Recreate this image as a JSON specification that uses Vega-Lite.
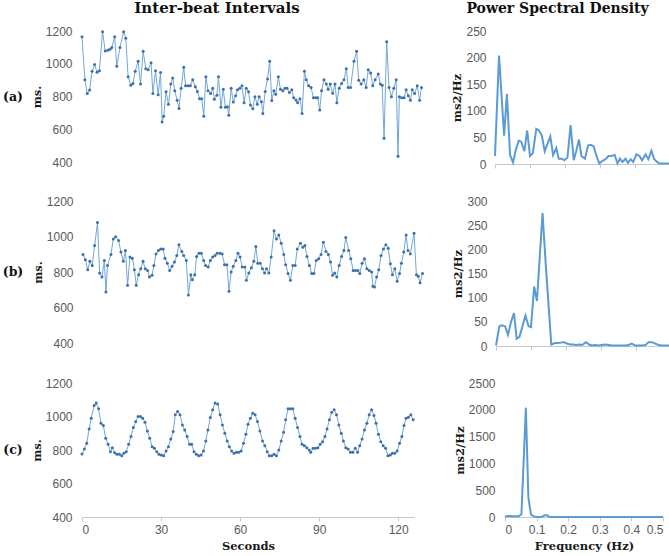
{
"$schema": "https://vega.github.io/schema/vega-lite/v6.json",
"padding": {"left": 2, "top": 1, "right": 0, "bottom": 0},
"background": "white",
"config": {
 "view": {"stroke": null},
 "axis": {"grid": false, "labelFont": "Liberation Sans", "labelFontSize": 12, "labelColor": "#595959", "titleFont": "DejaVu Serif", "titleFontWeight": "bold", "titleFontSize": 11.5, "titleColor": "#1a1a1a", "domainColor": "#c8c8c8", "tickColor": "#c8c8c8", "format": "d"},
 "axisY": {"domain": false, "ticks": false, "labelPadding": 10, "titlePadding": 3},
 "title": {"font": "DejaVu Serif", "fontWeight": "bold", "fontSize": 14, "color": "#111"},
 "text": {"font": "DejaVu Serif", "fontWeight": "bold", "fontSize": 12.5, "color": "#111"}
},
"datasets": {
 "ibi_a": [{"t":0.0,"v":1165},{"t":1.1,"v":902},{"t":2.0,"v":818},{"t":2.9,"v":839},{"t":3.8,"v":954},{"t":4.8,"v":995},{"t":5.7,"v":948},{"t":6.6,"v":958},{"t":7.8,"v":1196},{"t":8.8,"v":1078},{"t":9.8,"v":1082},{"t":10.6,"v":1088},{"t":11.3,"v":1099},{"t":12.4,"v":1165},{"t":13.2,"v":985},{"t":14.4,"v":1099},{"t":15.8,"v":1196},{"t":16.6,"v":1155},{"t":17.5,"v":921},{"t":18.5,"v":869},{"t":19.3,"v":880},{"t":20.2,"v":954},{"t":21.3,"v":1016},{"t":22.2,"v":876},{"t":23.2,"v":1076},{"t":24.2,"v":969},{"t":25.1,"v":963},{"t":26.2,"v":1006},{"t":26.9,"v":818},{"t":27.9,"v":958},{"t":28.9,"v":810},{"t":29.8,"v":946},{"t":30.4,"v":644},{"t":31.0,"v":680},{"t":31.9,"v":829},{"t":32.8,"v":752},{"t":33.7,"v":876},{"t":34.4,"v":913},{"t":35.2,"v":835},{"t":36.1,"v":777},{"t":36.8,"v":727},{"t":37.6,"v":851},{"t":38.6,"v":979},{"t":39.3,"v":865},{"t":40.2,"v":865},{"t":41.1,"v":865},{"t":42.0,"v":902},{"t":43.0,"v":859},{"t":43.8,"v":830},{"t":44.6,"v":787},{"t":45.4,"v":787},{"t":46.2,"v":680},{"t":47.0,"v":921},{"t":47.8,"v":835},{"t":48.8,"v":818},{"t":49.6,"v":851},{"t":50.2,"v":783},{"t":51.2,"v":808},{"t":51.8,"v":921},{"t":52.7,"v":735},{"t":53.6,"v":845},{"t":54.4,"v":735},{"t":55.2,"v":737},{"t":55.7,"v":686},{"t":56.6,"v":851},{"t":57.4,"v":766},{"t":58.3,"v":804},{"t":59.0,"v":841},{"t":59.9,"v":851},{"t":60.7,"v":865},{"t":61.5,"v":762},{"t":62.3,"v":851},{"t":63.2,"v":829},{"t":63.9,"v":748},{"t":64.8,"v":725},{"t":65.6,"v":799},{"t":66.5,"v":752},{"t":67.2,"v":799},{"t":68.1,"v":768},{"t":68.6,"v":696},{"t":69.5,"v":830},{"t":70.4,"v":907},{"t":71.2,"v":1016},{"t":72.0,"v":775},{"t":72.8,"v":835},{"t":73.5,"v":814},{"t":74.5,"v":921},{"t":75.3,"v":845},{"t":76.2,"v":835},{"t":77.0,"v":851},{"t":77.8,"v":851},{"t":78.7,"v":824},{"t":79.6,"v":841},{"t":80.3,"v":793},{"t":81.2,"v":779},{"t":81.8,"v":762},{"t":82.7,"v":787},{"t":83.5,"v":696},{"t":84.4,"v":954},{"t":85.1,"v":902},{"t":86.0,"v":865},{"t":86.9,"v":855},{"t":87.8,"v":793},{"t":88.7,"v":793},{"t":89.4,"v":793},{"t":90.2,"v":717},{"t":90.9,"v":835},{"t":91.8,"v":902},{"t":92.7,"v":876},{"t":93.4,"v":845},{"t":94.2,"v":876},{"t":95.1,"v":820},{"t":96.0,"v":876},{"t":96.7,"v":762},{"t":97.6,"v":851},{"t":98.5,"v":880},{"t":99.4,"v":902},{"t":100.3,"v":969},{"t":101.0,"v":855},{"t":101.9,"v":855},{"t":103.2,"v":1016},{"t":104.2,"v":1076},{"t":105.0,"v":900},{"t":105.9,"v":876},{"t":106.9,"v":902},{"t":107.8,"v":855},{"t":108.6,"v":963},{"t":109.5,"v":944},{"t":110.3,"v":865},{"t":111.2,"v":902},{"t":112.4,"v":938},{"t":113.2,"v":876},{"t":113.9,"v":869},{"t":114.6,"v":545},{"t":115.6,"v":1134},{"t":116.5,"v":855},{"t":117.4,"v":799},{"t":118.3,"v":851},{"t":119.2,"v":902},{"t":119.9,"v":435},{"t":120.4,"v":799},{"t":121.3,"v":793},{"t":122.2,"v":793},{"t":123.0,"v":841},{"t":123.8,"v":804},{"t":124.6,"v":777},{"t":125.3,"v":841},{"t":126.2,"v":818},{"t":127.2,"v":865},{"t":128.1,"v":777},{"t":128.8,"v":855}],
 "ibi_b": [{"t":0.0,"v":899},{"t":0.9,"v":869},{"t":1.8,"v":813},{"t":2.6,"v":860},{"t":3.5,"v":837},{"t":4.4,"v":949},{"t":5.5,"v":1079},{"t":6.3,"v":794},{"t":7.2,"v":772},{"t":8.1,"v":865},{"t":8.7,"v":688},{"t":9.3,"v":837},{"t":10.6,"v":899},{"t":11.5,"v":986},{"t":12.4,"v":999},{"t":13.5,"v":977},{"t":14.4,"v":912},{"t":15.3,"v":860},{"t":16.1,"v":921},{"t":16.9,"v":726},{"t":17.8,"v":884},{"t":18.7,"v":878},{"t":19.5,"v":813},{"t":20.2,"v":726},{"t":21.1,"v":785},{"t":21.9,"v":819},{"t":22.8,"v":860},{"t":23.6,"v":819},{"t":24.5,"v":809},{"t":25.2,"v":772},{"t":26.2,"v":781},{"t":26.9,"v":837},{"t":27.7,"v":902},{"t":28.6,"v":921},{"t":29.5,"v":930},{"t":30.4,"v":930},{"t":31.1,"v":878},{"t":32.0,"v":850},{"t":32.9,"v":809},{"t":33.8,"v":832},{"t":34.7,"v":856},{"t":35.6,"v":893},{"t":36.4,"v":953},{"t":37.5,"v":915},{"t":38.2,"v":893},{"t":39.2,"v":865},{"t":40.0,"v":670},{"t":40.9,"v":785},{"t":41.5,"v":757},{"t":42.4,"v":785},{"t":43.1,"v":887},{"t":44.0,"v":906},{"t":44.9,"v":906},{"t":45.8,"v":865},{"t":46.5,"v":837},{"t":47.5,"v":828},{"t":48.3,"v":865},{"t":49.2,"v":884},{"t":50.1,"v":893},{"t":50.9,"v":906},{"t":52.0,"v":906},{"t":52.8,"v":902},{"t":53.7,"v":841},{"t":54.6,"v":841},{"t":55.4,"v":692},{"t":56.2,"v":800},{"t":57.0,"v":832},{"t":58.0,"v":865},{"t":58.8,"v":906},{"t":59.6,"v":884},{"t":60.4,"v":828},{"t":61.4,"v":828},{"t":62.0,"v":753},{"t":62.9,"v":794},{"t":63.9,"v":824},{"t":64.8,"v":860},{"t":65.6,"v":943},{"t":66.3,"v":850},{"t":67.2,"v":850},{"t":68.1,"v":819},{"t":68.9,"v":794},{"t":69.6,"v":819},{"t":70.5,"v":794},{"t":71.4,"v":884},{"t":72.5,"v":1033},{"t":73.4,"v":986},{"t":74.3,"v":1008},{"t":75.2,"v":962},{"t":76.2,"v":899},{"t":76.9,"v":841},{"t":77.8,"v":791},{"t":78.7,"v":753},{"t":79.6,"v":837},{"t":80.5,"v":837},{"t":81.3,"v":930},{"t":82.5,"v":962},{"t":83.4,"v":940},{"t":84.2,"v":949},{"t":85.0,"v":887},{"t":85.9,"v":837},{"t":86.8,"v":791},{"t":87.6,"v":791},{"t":88.5,"v":865},{"t":89.4,"v":875},{"t":90.3,"v":899},{"t":91.2,"v":968},{"t":92.2,"v":915},{"t":93.1,"v":899},{"t":93.9,"v":856},{"t":94.7,"v":781},{"t":95.5,"v":794},{"t":96.3,"v":772},{"t":97.2,"v":837},{"t":98.1,"v":887},{"t":99.0,"v":921},{"t":99.7,"v":995},{"t":100.8,"v":921},{"t":101.6,"v":875},{"t":102.5,"v":809},{"t":103.4,"v":809},{"t":104.3,"v":809},{"t":105.0,"v":791},{"t":105.9,"v":850},{"t":106.8,"v":875},{"t":107.7,"v":819},{"t":108.6,"v":809},{"t":109.5,"v":800},{"t":110.0,"v":720},{"t":110.6,"v":716},{"t":111.4,"v":772},{"t":112.2,"v":813},{"t":113.1,"v":893},{"t":114.0,"v":930},{"t":114.9,"v":953},{"t":115.8,"v":934},{"t":116.6,"v":846},{"t":117.4,"v":785},{"t":118.3,"v":819},{"t":119.2,"v":748},{"t":120.1,"v":791},{"t":120.8,"v":850},{"t":121.7,"v":912},{"t":122.6,"v":1008},{"t":123.3,"v":921},{"t":124.2,"v":902},{"t":125.6,"v":1018},{"t":126.5,"v":785},{"t":127.2,"v":776},{"t":127.9,"v":739},{"t":128.8,"v":791}],
 "ibi_c": [{"t":0.0,"v":776},{"t":0.9,"v":806},{"t":1.8,"v":840},{"t":2.7,"v":926},{"t":3.5,"v":990},{"t":4.6,"v":1066},{"t":5.4,"v":1080},{"t":6.3,"v":1046},{"t":7.2,"v":960},{"t":8.1,"v":946},{"t":9.0,"v":870},{"t":9.9,"v":834},{"t":10.8,"v":790},{"t":11.5,"v":814},{"t":12.4,"v":784},{"t":13.3,"v":774},{"t":14.2,"v":774},{"t":15.1,"v":766},{"t":15.9,"v":780},{"t":16.8,"v":790},{"t":17.7,"v":834},{"t":18.6,"v":880},{"t":19.5,"v":934},{"t":20.4,"v":970},{"t":21.3,"v":1000},{"t":22.2,"v":1000},{"t":23.0,"v":990},{"t":23.9,"v":966},{"t":24.8,"v":914},{"t":25.7,"v":870},{"t":26.6,"v":820},{"t":27.5,"v":810},{"t":28.4,"v":790},{"t":29.2,"v":774},{"t":30.1,"v":770},{"t":31.0,"v":766},{"t":31.9,"v":794},{"t":32.8,"v":820},{"t":33.7,"v":866},{"t":34.6,"v":910},{"t":35.4,"v":1010},{"t":36.3,"v":1030},{"t":37.2,"v":1010},{"t":38.1,"v":950},{"t":39.0,"v":920},{"t":39.9,"v":880},{"t":40.8,"v":834},{"t":41.6,"v":834},{"t":42.5,"v":790},{"t":43.4,"v":774},{"t":44.3,"v":766},{"t":45.2,"v":770},{"t":46.1,"v":794},{"t":47.0,"v":854},{"t":47.8,"v":920},{"t":48.7,"v":994},{"t":49.6,"v":1040},{"t":50.5,"v":1080},{"t":51.5,"v":1074},{"t":52.4,"v":1010},{"t":53.3,"v":950},{"t":54.2,"v":900},{"t":55.1,"v":854},{"t":55.9,"v":820},{"t":56.8,"v":794},{"t":57.7,"v":780},{"t":58.6,"v":786},{"t":59.5,"v":786},{"t":60.4,"v":794},{"t":61.3,"v":840},{"t":62.2,"v":894},{"t":63.0,"v":954},{"t":63.9,"v":990},{"t":64.8,"v":1020},{"t":65.7,"v":1010},{"t":66.6,"v":970},{"t":67.5,"v":914},{"t":68.5,"v":854},{"t":69.4,"v":826},{"t":70.3,"v":790},{"t":71.1,"v":766},{"t":72.0,"v":766},{"t":72.9,"v":774},{"t":73.8,"v":766},{"t":74.7,"v":800},{"t":75.6,"v":854},{"t":76.5,"v":906},{"t":77.3,"v":980},{"t":78.2,"v":1046},{"t":79.1,"v":1046},{"t":80.0,"v":1046},{"t":80.9,"v":990},{"t":81.8,"v":934},{"t":82.7,"v":880},{"t":83.5,"v":834},{"t":84.4,"v":826},{"t":85.3,"v":814},{"t":86.2,"v":800},{"t":86.8,"v":786},{"t":87.7,"v":810},{"t":88.6,"v":810},{"t":89.5,"v":814},{"t":90.4,"v":834},{"t":91.3,"v":850},{"t":92.2,"v":880},{"t":93.0,"v":926},{"t":93.9,"v":980},{"t":94.8,"v":1026},{"t":95.7,"v":1040},{"t":96.6,"v":1010},{"t":97.5,"v":950},{"t":98.4,"v":900},{"t":99.2,"v":854},{"t":100.1,"v":814},{"t":101.0,"v":806},{"t":101.9,"v":786},{"t":102.8,"v":786},{"t":103.7,"v":810},{"t":104.6,"v":786},{"t":105.4,"v":826},{"t":106.3,"v":866},{"t":107.2,"v":920},{"t":108.1,"v":960},{"t":109.0,"v":1010},{"t":109.9,"v":1040},{"t":110.8,"v":1006},{"t":111.6,"v":960},{"t":112.5,"v":894},{"t":113.4,"v":850},{"t":114.3,"v":826},{"t":115.2,"v":810},{"t":116.1,"v":766},{"t":117.0,"v":770},{"t":117.8,"v":780},{"t":118.7,"v":780},{"t":119.6,"v":794},{"t":120.5,"v":840},{"t":121.4,"v":880},{"t":122.2,"v":946},{"t":123.0,"v":990},{"t":123.9,"v":996},{"t":124.8,"v":1010},{"t":125.7,"v":980}],
 "psd_a": [{"f":0,"p":15},{"f":0.0115,"p":204},{"f":0.026,"p":53},{"f":0.034,"p":132},{"f":0.043,"p":17},{"f":0.0515,"p":3},{"f":0.059,"p":26},{"f":0.068,"p":44},{"f":0.075,"p":42},{"f":0.084,"p":24},{"f":0.092,"p":63},{"f":0.1,"p":15},{"f":0.108,"p":20},{"f":0.118,"p":66},{"f":0.126,"p":63},{"f":0.134,"p":53},{"f":0.142,"p":24},{"f":0.15,"p":38},{"f":0.158,"p":52},{"f":0.166,"p":17},{"f":0.175,"p":30},{"f":0.182,"p":10},{"f":0.191,"p":10},{"f":0.198,"p":7},{"f":0.207,"p":12},{"f":0.216,"p":73},{"f":0.225,"p":7},{"f":0.232,"p":24},{"f":0.24,"p":46},{"f":0.247,"p":15},{"f":0.257,"p":10},{"f":0.266,"p":35},{"f":0.274,"p":36},{"f":0.282,"p":33},{"f":0.29,"p":15},{"f":0.298,"p":1},{"f":0.307,"p":6},{"f":0.316,"p":9},{"f":0.324,"p":15},{"f":0.332,"p":15},{"f":0.342,"p":17},{"f":0.35,"p":1},{"f":0.357,"p":10},{"f":0.364,"p":4},{"f":0.373,"p":10},{"f":0.38,"p":2},{"f":0.388,"p":9},{"f":0.395,"p":4},{"f":0.404,"p":18},{"f":0.413,"p":15},{"f":0.42,"p":7},{"f":0.43,"p":18},{"f":0.438,"p":9},{"f":0.447,"p":25},{"f":0.455,"p":9},{"f":0.463,"p":4},{"f":0.47,"p":1},{"f":0.479,"p":1},{"f":0.487,"p":1},{"f":0.495,"p":1},{"f":0.5,"p":1}],
 "psd_b": [{"f":0,"p":1},{"f":0.0095,"p":41},{"f":0.017,"p":43},{"f":0.026,"p":41},{"f":0.034,"p":23},{"f":0.043,"p":50},{"f":0.0515,"p":68},{"f":0.059,"p":15},{"f":0.067,"p":19},{"f":0.075,"p":39},{"f":0.084,"p":63},{"f":0.093,"p":41},{"f":0.1,"p":39},{"f":0.109,"p":123},{"f":0.117,"p":93},{"f":0.133,"p":275},{"f":0.142,"p":170},{"f":0.158,"p":3},{"f":0.168,"p":6},{"f":0.177,"p":6},{"f":0.186,"p":7},{"f":0.194,"p":8},{"f":0.202,"p":5},{"f":0.212,"p":3},{"f":0.22,"p":3},{"f":0.229,"p":2},{"f":0.238,"p":3},{"f":0.246,"p":2},{"f":0.257,"p":8},{"f":0.266,"p":3},{"f":0.274,"p":1},{"f":0.283,"p":2},{"f":0.293,"p":1},{"f":0.302,"p":2},{"f":0.312,"p":3},{"f":0.322,"p":2},{"f":0.331,"p":1},{"f":0.34,"p":1},{"f":0.35,"p":1},{"f":0.36,"p":1},{"f":0.369,"p":1},{"f":0.379,"p":2},{"f":0.388,"p":5},{"f":0.398,"p":1},{"f":0.407,"p":1},{"f":0.417,"p":1},{"f":0.427,"p":2},{"f":0.436,"p":8},{"f":0.446,"p":8},{"f":0.455,"p":5},{"f":0.465,"p":2},{"f":0.474,"p":1},{"f":0.484,"p":1},{"f":0.5,"p":1}],
 "psd_c": [{"f":0,"p":0},{"f":0.008,"p":19},{"f":0.017,"p":19},{"f":0.025,"p":12},{"f":0.034,"p":12},{"f":0.043,"p":12},{"f":0.052,"p":50},{"f":0.066,"p":2040},{"f":0.074,"p":362},{"f":0.082,"p":50},{"f":0.091,"p":12},{"f":0.1,"p":0},{"f":0.109,"p":0},{"f":0.117,"p":6},{"f":0.126,"p":31},{"f":0.133,"p":31},{"f":0.14,"p":6},{"f":0.149,"p":0},{"f":0.2,"p":0},{"f":0.3,"p":0},{"f":0.4,"p":0},{"f":0.5,"p":0}]
},
"spacing": 25,
"vconcat": [
 {
  "spacing": 27,
  "hconcat": [
   {
    "spacing": 8,
    "hconcat": [
     {"width": 18, "height": 131, "data": {"values": [{"label": "(a)"}]}, "mark": {"type": "text"}, "encoding": {"text": {"field": "label", "type": "nominal"}}},
     {
      "width": 340, "height": 131,
      "title": {"text": "Inter-beat Intervals", "offset": 9, "dx": -35, "fontSize": 15},
      "data": {"name": "ibi_a"},
      "encoding": {
       "x": {"field": "t", "type": "quantitative", "scale": {"domain": [0, 129], "nice": false}, "axis": null},
       "y": {"field": "v", "type": "quantitative", "scale": {"domain": [400, 1200]}, "axis": {"values": [400, 600, 800, 1000, 1200], "title": "ms."}}
      },
      "layer": [
       {"mark": {"type": "line", "color": "#70a6dc", "strokeWidth": 1}},
       {"mark": {"type": "point", "filled": true, "color": "#3e6fa6", "size": 9, "opacity": 1}}
      ]
     }
    ]
   },
   {
    "width": 175, "height": 133,
    "title": {"text": "Power Spectral Density", "offset": 9, "dx": -25},
    "data": {"name": "psd_a"},
    "mark": {"type": "line", "color": "#5b9bd5", "strokeWidth": 2},
    "encoding": {
     "x": {"field": "f", "type": "quantitative", "scale": {"domain": [0, 0.5], "nice": false}, "axis": {"values": [0, 0.1, 0.2, 0.3, 0.4, 0.5], "labels": false, "title": null, "tickSize": 4}},
     "y": {"field": "p", "type": "quantitative", "scale": {"domain": [0, 250]}, "axis": {"values": [0, 50, 100, 150, 200, 250], "title": "ms2/Hz", "labelPadding": 9}}
    }
   }
  ]
 },
 {
  "spacing": 27,
  "hconcat": [
   {
    "spacing": 8,
    "hconcat": [
     {"width": 18, "height": 142, "data": {"values": [{"label": "(b)"}]}, "mark": {"type": "text"}, "encoding": {"text": {"field": "label", "type": "nominal"}}},
     {
      "width": 340, "height": 142,
      "data": {"name": "ibi_b"},
      "encoding": {
       "x": {"field": "t", "type": "quantitative", "scale": {"domain": [0, 129], "nice": false}, "axis": null},
       "y": {"field": "v", "type": "quantitative", "scale": {"domain": [400, 1200]}, "axis": {"values": [400, 600, 800, 1000, 1200], "title": "ms."}}
      },
      "layer": [
       {"mark": {"type": "line", "color": "#70a6dc", "strokeWidth": 1}},
       {"mark": {"type": "point", "filled": true, "color": "#3e6fa6", "size": 9, "opacity": 1}}
      ]
     }
    ]
   },
   {
    "width": 175, "height": 145,
    "data": {"name": "psd_b"},
    "mark": {"type": "line", "color": "#5b9bd5", "strokeWidth": 2},
    "encoding": {
     "x": {"field": "f", "type": "quantitative", "scale": {"domain": [0, 0.5], "nice": false}, "axis": {"values": [0, 0.1, 0.2, 0.3, 0.4, 0.5], "labels": false, "title": null, "tickSize": 4}},
     "y": {"field": "p", "type": "quantitative", "scale": {"domain": [0, 300]}, "axis": {"values": [0, 50, 100, 150, 200, 250, 300], "title": "ms2/Hz", "labelPadding": 9}}
    }
   }
  ]
 },
 {
  "spacing": 38,
  "hconcat": [
   {
    "spacing": 8,
    "hconcat": [
     {"width": 18, "height": 134, "data": {"values": [{"label": "(c)"}]}, "mark": {"type": "text"}, "encoding": {"text": {"field": "label", "type": "nominal"}}},
     {
      "width": 332, "height": 134,
      "data": {"name": "ibi_c"},
      "encoding": {
       "x": {"field": "t", "type": "quantitative", "scale": {"domain": [0, 126], "nice": false}, "axis": {"values": [0, 30, 60, 90, 120], "title": "Seconds", "tickSize": 4, "labelPadding": 3, "titlePadding": 5}},
       "y": {"field": "v", "type": "quantitative", "scale": {"domain": [400, 1200]}, "axis": {"values": [400, 600, 800, 1000, 1200], "title": "ms."}}
      },
      "layer": [
       {"mark": {"type": "line", "color": "#70a6dc", "strokeWidth": 1}},
       {"mark": {"type": "point", "filled": true, "color": "#3e6fa6", "size": 9, "opacity": 1}}
      ]
     }
    ]
   },
   {
    "width": 158, "height": 134,
    "data": {"name": "psd_c"},
    "mark": {"type": "line", "color": "#5b9bd5", "strokeWidth": 2},
    "encoding": {
     "x": {"field": "f", "type": "quantitative", "scale": {"domain": [0, 0.5], "nice": false}, "axis": {"values": [0, 0.1, 0.2, 0.3, 0.4, 0.5], "format": "~g", "title": "Frequency (Hz)", "tickSize": 4, "labelPadding": 3, "titlePadding": 5}},
     "y": {"field": "p", "type": "quantitative", "scale": {"domain": [0, 2500]}, "axis": {"values": [0, 500, 1000, 1500, 2000, 2500], "title": "ms2/Hz", "labelPadding": 10}}
    }
   }
  ]
 }
]
}
